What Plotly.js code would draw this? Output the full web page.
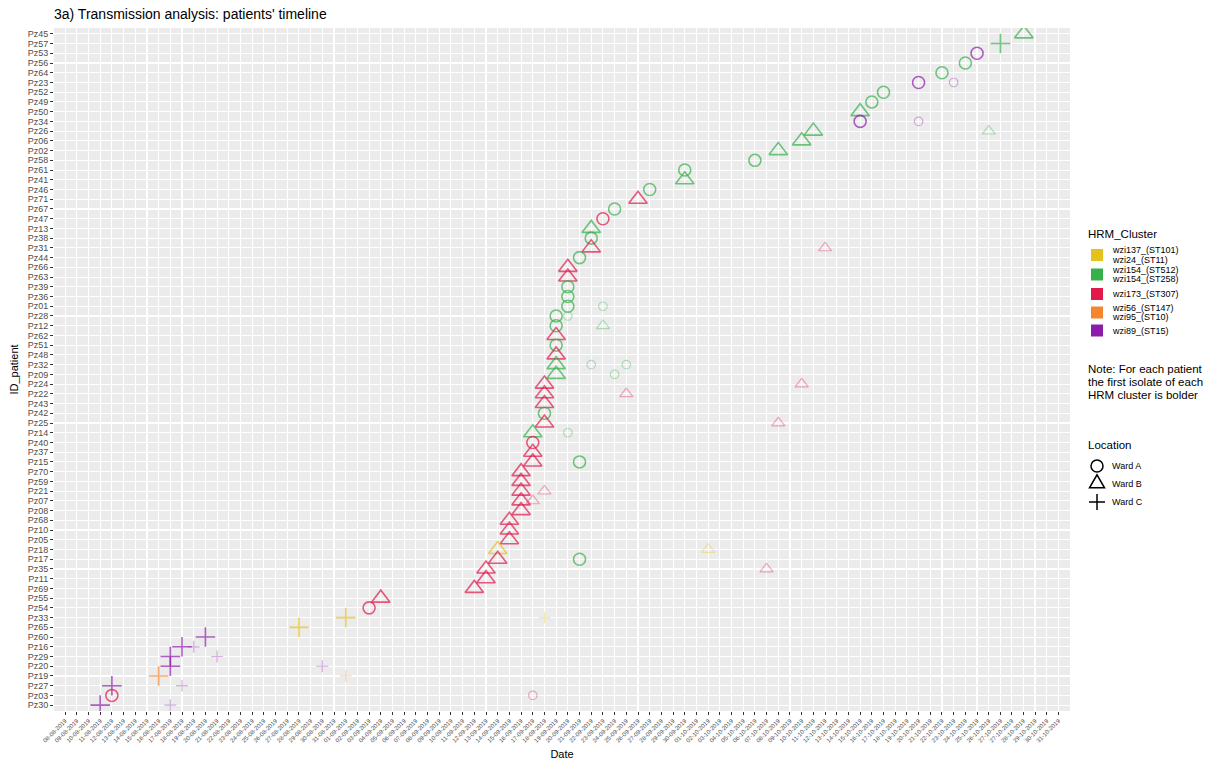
<!DOCTYPE html>
<html>
<head>
<meta charset="utf-8">
<script src="https://cdn.plot.ly/plotly-3.0.1.min.js"></script>
<style>
  html, body { margin: 0; padding: 0; background: #ffffff; }
  #chart { width: 1211px; height: 760px; }
</style>
</head>
<body>
<div id="chart"></div>
<script>
// Patients, from the bottom row of the timeline to the top row
const patients = ['Pz30','Pz03','Pz27','Pz19','Pz20','Pz29','Pz16','Pz60','Pz65','Pz33',
  'Pz54','Pz55','Pz69','Pz11','Pz35','Pz17','Pz18','Pz05','Pz10','Pz68',
  'Pz08','Pz07','Pz21','Pz59','Pz70','Pz15','Pz37','Pz40','Pz14','Pz25',
  'Pz42','Pz43','Pz22','Pz24','Pz09','Pz32','Pz48','Pz51','Pz62','Pz12',
  'Pz28','Pz01','Pz36','Pz39','Pz63','Pz66','Pz44','Pz31','Pz38','Pz13',
  'Pz47','Pz67','Pz71','Pz46','Pz41','Pz61','Pz58','Pz02','Pz06','Pz26',
  'Pz34','Pz50','Pz49','Pz52','Pz23','Pz64','Pz56','Pz53','Pz57','Pz45'];

// HRM clusters and their legend labels (one entry per text line)
const clusterKeys = ['wzi137/wzi24', 'wzi154', 'wzi173', 'wzi56/wzi95', 'wzi89'];
const clusterLabels = [
  ['wzi137_(ST101)', 'wzi24_(ST11)'],
  ['wzi154_(ST512)', 'wzi154_(ST258)'],
  ['wzi173_(ST307)'],
  ['wzi56_(ST147)', 'wzi95_(ST10)'],
  ['wzi89_(ST15)']
];
const clusterColors = ['#E5C21A', '#35B04A', '#E0184B', '#F4862F', '#8D1CAD'];

// Wards and legend labels
const wardKeys = ['A', 'B', 'C'];
const wardLabels = ['Ward A', 'Ward B', 'Ward C'];

// Isolates: patient, sampling date, HRM cluster, ward, first isolate of the cluster (1) or later (0)
const isoPatient = [
  'Pz45','Pz57','Pz53','Pz56','Pz64','Pz23','Pz23','Pz52','Pz49','Pz50',
  'Pz34','Pz34','Pz26','Pz26','Pz06','Pz02','Pz58','Pz61','Pz41','Pz46',
  'Pz71','Pz67','Pz47','Pz13','Pz38','Pz31','Pz31','Pz44','Pz66','Pz63',
  'Pz39','Pz36','Pz01','Pz01','Pz28','Pz28','Pz12','Pz12','Pz62','Pz51',
  'Pz48','Pz32','Pz32','Pz32','Pz09','Pz09','Pz24','Pz24','Pz22','Pz22',
  'Pz43','Pz42','Pz25','Pz25','Pz14','Pz14','Pz40','Pz37','Pz15','Pz15',
  'Pz70','Pz59','Pz21','Pz21','Pz07','Pz07','Pz08','Pz68','Pz10','Pz05',
  'Pz18','Pz18','Pz17','Pz17','Pz35','Pz35','Pz11','Pz69','Pz55','Pz54',
  'Pz33','Pz33','Pz65','Pz60','Pz16','Pz16','Pz29','Pz29','Pz20','Pz20',
  'Pz19','Pz19','Pz27','Pz27','Pz03','Pz03','Pz30','Pz30'];
const isoDate = [
  '2019-10-29','2019-10-27','2019-10-25','2019-10-24','2019-10-22','2019-10-20','2019-10-23','2019-10-17','2019-10-16','2019-10-15',
  '2019-10-15','2019-10-20','2019-10-11','2019-10-26','2019-10-10','2019-10-08','2019-10-06','2019-09-30','2019-09-30','2019-09-27',
  '2019-09-26','2019-09-24','2019-09-23','2019-09-22','2019-09-22','2019-09-22','2019-10-12','2019-09-21','2019-09-20','2019-09-20',
  '2019-09-20','2019-09-20','2019-09-20','2019-09-23','2019-09-19','2019-09-20','2019-09-19','2019-09-23','2019-09-19','2019-09-19',
  '2019-09-19','2019-09-19','2019-09-22','2019-09-25','2019-09-19','2019-09-24','2019-09-18','2019-10-10','2019-09-18','2019-09-25',
  '2019-09-18','2019-09-18','2019-09-18','2019-10-08','2019-09-17','2019-09-20','2019-09-17','2019-09-17','2019-09-17','2019-09-21',
  '2019-09-16','2019-09-16','2019-09-16','2019-09-18','2019-09-16','2019-09-17','2019-09-16','2019-09-15','2019-09-15','2019-09-15',
  '2019-09-14','2019-10-02','2019-09-14','2019-09-21','2019-09-13','2019-10-07','2019-09-13','2019-09-12','2019-09-04','2019-09-03',
  '2019-09-01','2019-09-18','2019-08-28','2019-08-20','2019-08-18','2019-08-19','2019-08-17','2019-08-21','2019-08-17','2019-08-30',
  '2019-08-16','2019-09-01','2019-08-12','2019-08-18','2019-08-12','2019-09-17','2019-08-11','2019-08-17'];
const isoCluster = [
  'wzi154','wzi154','wzi89','wzi154','wzi154','wzi89','wzi89','wzi154','wzi154','wzi154',
  'wzi89','wzi89','wzi154','wzi154','wzi154','wzi154','wzi154','wzi154','wzi154','wzi154',
  'wzi173','wzi154','wzi173','wzi154','wzi154','wzi173','wzi173','wzi154','wzi173','wzi173',
  'wzi154','wzi154','wzi154','wzi154','wzi154','wzi154','wzi154','wzi154','wzi173','wzi154',
  'wzi173','wzi154','wzi154','wzi154','wzi154','wzi154','wzi173','wzi173','wzi173','wzi173',
  'wzi173','wzi154','wzi173','wzi173','wzi154','wzi154','wzi173','wzi173','wzi173','wzi154',
  'wzi173','wzi173','wzi173','wzi173','wzi173','wzi173','wzi173','wzi173','wzi173','wzi173',
  'wzi137/wzi24','wzi137/wzi24','wzi173','wzi154','wzi173','wzi173','wzi173','wzi173','wzi173','wzi173',
  'wzi137/wzi24','wzi137/wzi24','wzi137/wzi24','wzi89','wzi89','wzi89','wzi89','wzi89','wzi89','wzi89',
  'wzi56/wzi95','wzi56/wzi95','wzi89','wzi89','wzi173','wzi173','wzi89','wzi89'];
const isoWard = [
  'B','C','A','A','A','A','A','A','A','B',
  'A','A','B','B','B','B','A','A','B','A',
  'B','A','A','B','A','B','B','A','B','B',
  'A','A','A','A','A','A','A','B','B','A',
  'B','B','A','A','B','A','B','B','B','B',
  'B','A','B','B','B','A','A','B','B','A',
  'B','B','B','B','B','B','B','B','B','B',
  'B','B','B','A','B','B','B','B','B','A',
  'C','C','C','C','C','C','C','C','C','C',
  'C','C','C','C','A','A','C','C'];
const isoFirst = [
  1,1,1,1,1,1,0,1,1,1,
  1,0,1,0,1,1,1,1,1,1,
  1,1,1,1,1,1,0,1,1,1,
  1,1,1,0,1,0,1,0,1,1,
  1,1,0,0,1,0,1,0,1,0,
  1,1,1,0,1,0,1,1,1,1,
  1,1,1,0,1,0,1,1,1,1,
  1,0,1,1,1,0,1,1,1,1,
  1,0,1,1,1,0,1,0,1,0,
  1,0,1,0,1,0,1,0];

// Marker look per ward, for first isolates and for later ones
const wardSymbol = { A: 'circle-open', B: 'triangle-up-open', C: 'cross-thin-open' };
const sizeFirst = { A: 12, B: 16, C: 14 };
const sizeLater = { A: 8.5, B: 11.5, C: 8.5 };
const laterAlpha = 0.5;

function hexToRgba(hex, a) {
  const n = parseInt(hex.slice(1), 16);
  return 'rgba(' + (n >> 16 & 255) + ',' + (n >> 8 & 255) + ',' + (n & 255) + ',' + a + ')';
}

const mColor = [], mSymbol = [], mSize = [], mWidth = [];
for (let i = 0; i < isoPatient.length; i++) {
  const base = clusterColors[clusterKeys.indexOf(isoCluster[i])];
  const first = isoFirst[i] === 1;
  mColor.push(first ? base : hexToRgba(base, laterAlpha));
  mSymbol.push(wardSymbol[isoWard[i]]);
  mSize.push(first ? sizeFirst[isoWard[i]] : sizeLater[isoWard[i]]);
  mWidth.push(first ? 1.6 : 1.2);
}

// Daily breaks from 08-08 to 31-10; after the clock change on 27-10 the breaks land at 23:00
const tickVals = [], tickText = [];
const breakStart = Date.UTC(2019, 7, 8);
const nBreaks = 86, clockChangeIndex = 81;
for (let k = 0; k < nBreaks; k++) {
  let ms = breakStart + k * 86400000;
  if (k >= clockChangeIndex) ms -= 3600000;
  const d = new Date(ms);
  const pad = v => String(v).padStart(2, '0');
  tickVals.push(d.getUTCFullYear() + '-' + pad(d.getUTCMonth() + 1) + '-' + pad(d.getUTCDate()) +
    ' ' + pad(d.getUTCHours()) + ':00');
  tickText.push(pad(d.getUTCDate()) + '-' + pad(d.getUTCMonth() + 1) + '-' + d.getUTCFullYear());
}

const FONT = 'Liberation Sans, Arial, Helvetica, sans-serif';

// Plot panel in pixels, used to place the side legends
const W = 1211, H = 760;
const panel = { l: 54, r: 1070, t: 28, b: 711 };
const fx = x => (x - panel.l) / (panel.r - panel.l);
const fy = y => (panel.b - y) / (panel.b - panel.t);

const trace = {
  type: 'scatter',
  mode: 'markers',
  x: isoDate,
  y: isoPatient,
  showlegend: false,
  hoverinfo: 'x+y',
  marker: {
    symbol: mSymbol,
    size: mSize,
    color: mColor,
    line: { color: mColor, width: mWidth }
  }
};

const annotations = [];
const shapes = [];
const txt = (text, x, y, size) => annotations.push({
  text: text, xref: 'paper', yref: 'paper', x: fx(x), y: fy(y),
  xanchor: 'left', yanchor: 'middle', showarrow: false, align: 'left',
  font: { family: FONT, size: size, color: '#000000' }
});
const pxShape = (o, x, y) => Object.assign({
  xref: 'paper', yref: 'paper', xsizemode: 'pixel', ysizemode: 'pixel',
  xanchor: fx(x), yanchor: fy(y)
}, o);

// Colour legend
txt('HRM_Cluster', 1086, 234, 11.5);
const keyCenters = [255, 274.5, 294, 312.5, 330.5];
clusterLabels.forEach((lines, i) => {
  const cy = keyCenters[i];
  shapes.push(pxShape({ type: 'rect', x0: -6, x1: 6, y0: -6, y1: 6,
    fillcolor: clusterColors[i], line: { width: 0 } }, 1097, cy));
  lines.forEach((line, j) => {
    const off = (j - (lines.length - 1) / 2) * 9.6;
    txt(line, 1110, cy + off, 9);
  });
});

// Note on marker weight
txt('Note: For each patient', 1086, 369, 11.5);
txt('the first isolate of each', 1086, 382, 11.5);
txt('HRM cluster is bolder', 1086, 395, 11.5);

// Ward legend
txt('Location', 1086, 445, 11.5);
const wardCenters = [466, 483.5, 502];
shapes.push(pxShape({ type: 'circle', x0: -6, x1: 6, y0: -6, y1: 6,
  line: { color: '#000000', width: 1.5 } }, 1097, wardCenters[0]));
shapes.push(pxShape({ type: 'path', path: 'M -7.5 -4.3 L 7.5 -4.3 L 0 8.7 Z',
  line: { color: '#000000', width: 1.5 } }, 1097, wardCenters[1]));
shapes.push(pxShape({ type: 'path', path: 'M -8 0 L 8 0 M 0 -8 L 0 8',
  line: { color: '#000000', width: 1.5 } }, 1097, wardCenters[2]));
wardLabels.forEach((lab, i) => txt(lab, 1110, wardCenters[i], 9));

const layout = {
  width: W, height: H,
  margin: { l: panel.l, r: W - panel.r, t: panel.t, b: H - panel.b, pad: 0 },
  paper_bgcolor: '#ffffff',
  plot_bgcolor: '#EBEBEB',
  font: { family: FONT, color: '#000000' },
  title: {
    text: "3a) Transmission analysis: patients' timeline",
    xref: 'paper', x: 0, xanchor: 'left',
    yref: 'container', y: 1 - 14 / H, yanchor: 'middle',
    font: { family: FONT, size: 14, color: '#000000' }
  },
  xaxis: {
    type: 'date',
    range: ['2019-08-07 01:12', '2019-11-01 22:48'],
    tickmode: 'array', tickvals: tickVals, ticktext: tickText,
    tickangle: -45,
    tickfont: { family: FONT, size: 6, color: '#4D4D4D' },
    ticks: 'outside', ticklen: 3, tickwidth: 1, tickcolor: '#333333',
    showgrid: true, gridcolor: '#ffffff', gridwidth: 1.1,
    zeroline: false, showline: false, automargin: false,
    title: { text: 'Date', font: { family: FONT, size: 11, color: '#000000' }, standoff: 8 }
  },
  yaxis: {
    type: 'category',
    categoryorder: 'array', categoryarray: patients,
    range: [-0.6, patients.length - 0.4],
    tickmode: 'linear', tick0: 0, dtick: 1,
    tickfont: { family: FONT, size: 9, color: '#4D4D4D' },
    ticks: 'outside', ticklen: 3, tickwidth: 1, tickcolor: '#333333',
    showgrid: true, gridcolor: '#ffffff', gridwidth: 1.1,
    zeroline: false, showline: false, automargin: false,
    title: { text: 'ID_patient', font: { family: FONT, size: 11, color: '#000000' }, standoff: 6 }
  },
  annotations: annotations,
  shapes: shapes,
  showlegend: false
};

Plotly.newPlot('chart', [trace], layout, { displayModeBar: false, staticPlot: true });
</script>
</body>
</html>
